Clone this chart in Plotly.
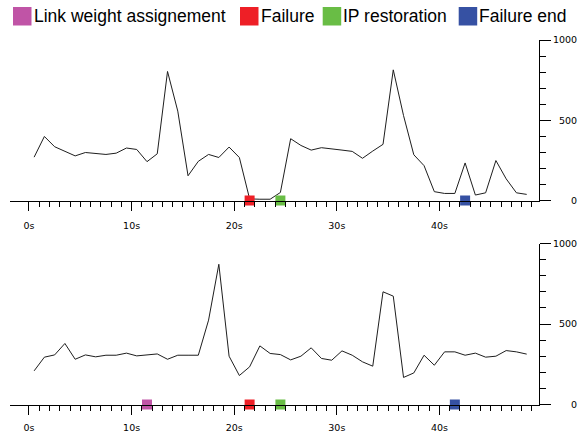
import plotly.graph_objects as go

# ---- data ----
time_s = [0.5, 1.5, 2.5, 3.5, 4.5, 5.5, 6.5, 7.5, 8.5, 9.5,
          10.5, 11.5, 12.5, 13.5, 14.5, 15.5, 16.5, 17.5, 18.5, 19.5,
          20.5, 21.5, 22.5, 23.5, 24.5, 25.5, 26.5, 27.5, 28.5, 29.5,
          30.5, 31.5, 32.5, 33.5, 34.5, 35.5, 36.5, 37.5, 38.5, 39.5,
          40.5, 41.5, 42.5, 43.5, 44.5, 45.5, 46.5, 47.5, 48.5]

top_values = [270, 399, 335, 306, 278, 299, 293, 287, 295, 327,
              318, 242, 291, 804, 557, 154, 244, 287, 268, 333,
              268, 10, 8, 8, 50, 385, 343, 314, 329, 323,
              314, 306, 263, 308, 350, 814, 529, 285, 217, 55,
              44, 44, 234, 34, 48, 249, 135, 48, 38]

bottom_values = [209, 294, 308, 379, 281, 308, 296, 306, 306, 319,
                 302, 306, 314, 281, 306, 306, 306, 524, 871, 300,
                 180, 234, 364, 317, 310, 277, 300, 352, 286, 275,
                 333, 306, 265, 238, 700, 673, 168, 196, 306, 244,
                 327, 327, 306, 319, 294, 300, 335, 327, 313]

event_names = ["Link weight assignement", "Failure", "IP restoration", "Failure end"]
event_colors = ["#c054a6", "#ee1f26", "#69bd45", "#3651a3"]
top_event_times = [None, 21.5, 24.5, 42.5]
bottom_event_times = [11.5, 21.5, 24.5, 41.5]

x_tick_vals = [0, 10, 20, 30, 40]
x_tick_text = ["0s", "10s", "20s", "30s", "40s"]
x_minor_vals = list(range(0, 50))
y_tick_vals = [0, 500, 1000]
y_tick_text = ["\u2007\u2007\u20070", "\u2007500", "1000"]
y_minor_vals = list(range(0, 1001, 100))

# ---- layout geometry ----
W, H = 579, 435
X_DOM = [10 / W, 539 / W]
TOP_DOM = [1 - 200.5 / H, 1 - 40 / H]
BOT_DOM = [1 - 404.5 / H, 1 - 243.5 / H]
X_RANGE = [-1.85, 49.7]

fig = go.Figure()

LINE_COLOR = "#1e1e1e"
fig.add_trace(go.Scatter(x=time_s, y=top_values, mode="lines",
                         line=dict(color=LINE_COLOR, width=1),
                         xaxis="x", yaxis="y", showlegend=False, hoverinfo="skip"))
fig.add_trace(go.Scatter(x=time_s, y=bottom_values, mode="lines",
                         line=dict(color=LINE_COLOR, width=1),
                         xaxis="x2", yaxis="y2", showlegend=False, hoverinfo="skip"))

for name, color, t_top, t_bot in zip(event_names, event_colors,
                                     top_event_times, bottom_event_times):
    if t_top is not None:
        fig.add_trace(go.Scatter(x=[t_top], y=[0], mode="markers",
                                 marker=dict(symbol="square", size=10, color=color,
                                             line=dict(width=0)),
                                 cliponaxis=False, xaxis="x", yaxis="y",
                                 showlegend=False, name=name))
    if t_bot is not None:
        fig.add_trace(go.Scatter(x=[t_bot], y=[0], mode="markers",
                                 marker=dict(symbol="square", size=10, color=color,
                                             line=dict(width=0)),
                                 cliponaxis=False, xaxis="x2", yaxis="y2",
                                 showlegend=False, name=name))

tick_font = dict(family="DejaVu Sans", size=9.5, color="black")

def xaxis_cfg(anchor, standoff):
    return dict(domain=X_DOM, range=X_RANGE, anchor=anchor,
                showline=True, linecolor="black", linewidth=1,
                showgrid=False, zeroline=False,
                tickmode="array", tickvals=x_tick_vals, ticktext=x_tick_text,
                ticks="outside", ticklen=9, tickwidth=1, tickcolor="black",
                ticklabelstandoff=standoff,
                minor=dict(tickmode="array", tickvals=x_minor_vals,
                           ticks="outside", ticklen=5, tickwidth=1, tickcolor="black",
                           showgrid=False),
                tickfont=tick_font, fixedrange=True)

def yaxis_cfg(anchor, dom):
    return dict(domain=dom, range=[0, 1000], anchor=anchor, side="right",
                showline=True, linecolor="black", linewidth=1,
                showgrid=False, zeroline=False,
                tickmode="array", tickvals=y_tick_vals, ticktext=y_tick_text,
                ticks="outside", ticklen=11, tickwidth=1, tickcolor="black",
                minor=dict(tickmode="array", tickvals=y_minor_vals,
                           ticks="outside", ticklen=6, tickwidth=1, tickcolor="black",
                           showgrid=False),
                tickfont=tick_font, fixedrange=True)

# legend drawn as squares + text along the top
legend_square_x = [13, 240, 322.7, 458.7]
legend_text_x = [31.5, 258.5, 341, 477]
shapes = []
annotations = []
for name, color, sx, tx in zip(event_names, event_colors, legend_square_x, legend_text_x):
    shapes.append(dict(type="rect", xref="paper", yref="paper",
                       x0=sx / W, x1=(sx + 18.5) / W,
                       y0=1 - 25.5 / H, y1=1 - 7 / H,
                       fillcolor=color, line=dict(width=0)))
    annotations.append(dict(text=name, xref="paper", yref="paper",
                            x=tx / W, y=1 - 16.5 / H, xanchor="left", yanchor="middle",
                            showarrow=False,
                            font=dict(family="Liberation Sans", size=17.5, color="black")))

fig.update_layout(
    width=W, height=H,
    margin=dict(l=0, r=0, t=0, b=0, autoexpand=False),
    paper_bgcolor="white", plot_bgcolor="white",
    xaxis=xaxis_cfg("y", 7), yaxis=yaxis_cfg("x", TOP_DOM),
    xaxis2=xaxis_cfg("y2", 5), yaxis2=yaxis_cfg("x2", BOT_DOM),
    shapes=shapes, annotations=annotations,
    showlegend=False,
)

fig.write_html("out.html", config={"displayModeBar": False})
